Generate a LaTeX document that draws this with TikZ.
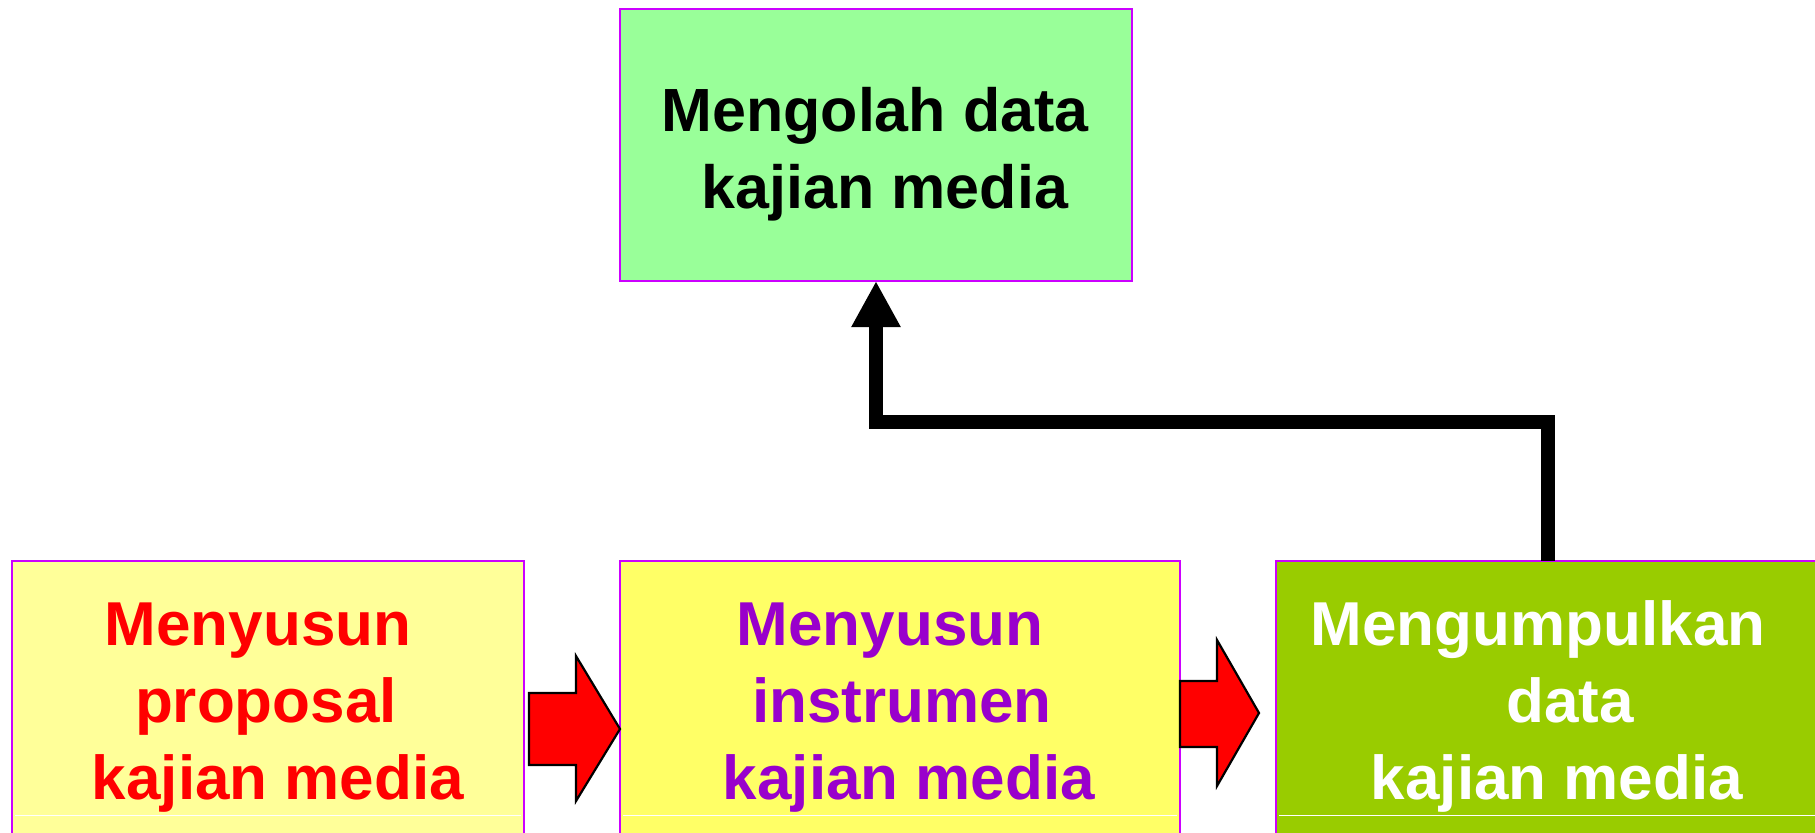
\documentclass[tikz,border=0pt]{standalone}
\usepackage{fontspec}
\setmainfont{Liberation Sans}
\usetikzlibrary{arrows.meta}
\definecolor{boxborder}{HTML}{CC00FF}
\definecolor{fillA}{HTML}{FFFF99}
\definecolor{fillB}{HTML}{FFFF66}
\definecolor{fillC}{HTML}{99CC00}
\definecolor{fillTop}{HTML}{99FF99}
\definecolor{txtB}{HTML}{9900CC}
\tikzset{
  box/.style={draw=boxborder, line width=1.2pt, rectangle, inner sep=0pt, outer sep=0pt},
  bottomtxt/.style={anchor=base, inner sep=0pt, font=\fontsize{31}{38}\selectfont\bfseries},
  toptxt/.style={anchor=base, inner sep=0pt, font=\fontsize{30.5}{38}\selectfont\bfseries},
  conn/.style={line width=7pt, line join=miter, -{Triangle[width=23pt,length=23pt]}},
  blockarrow/.style={fill=red, draw=black, line width=1.1pt, line join=miter},
  sepline/.style={draw=white, line width=0.5pt}
}
\begin{document}
\begin{tikzpicture}[x=0.5pt, y=-0.5pt]
\useasboundingbox (0,0) rectangle (1815,832);
\clip (0,0) rectangle (1815,832);
% boxes
\node[box, fill=fillTop, minimum width=256pt, minimum height=136pt] (top) at (876,145) {};
\node[box, fill=fillA, minimum width=256pt, minimum height=144.5pt] (b1) at (268,705.5) {};
\node[box, fill=fillB, minimum width=280pt, minimum height=144.5pt] (b2) at (900,705.5) {};
\node[box, fill=fillC, minimum width=272pt, minimum height=144.5pt] (b3) at (1548,705.5) {};
% thin white lines near the bottom
\draw[sepline] (15,815) -- (521,815);
\draw[sepline] (623,815) -- (1177,815);
\draw[sepline] (1279,815) -- (1815,815);
% texts
\node[toptxt] (t0a) at (875,131) {Mengolah data};
\node[toptxt] (t0b) at (885,208) {kajian media};
\node[bottomtxt, text=red] (t1a) at (258,645) {Menyusun};
\node[bottomtxt, text=red] (t1b) at (266,722) {proposal};
\node[bottomtxt, text=red] (t1c) at (278,799) {kajian media};
\node[bottomtxt, text=txtB] (t2a) at (890,645) {Menyusun};
\node[bottomtxt, text=txtB] (t2b) at (902,722) {instrumen};
\node[bottomtxt, text=txtB] (t2c) at (909,799) {kajian media};
\node[bottomtxt, text=white] (t3a) at (1538,645) {Mengumpulkan};
\node[bottomtxt, text=white] (t3b) at (1570,722) {data};
\node[bottomtxt, text=white] (t3c) at (1557,799) {kajian media};
% block arrows
\draw[blockarrow] (529,693) -- (576,693) -- (576,656) -- (b2.west |- 0,729) -- (576,801) -- (576,765) -- (529,765) -- cycle;
\draw[blockarrow] (1180,681) -- (1217,681) -- (1217,640) -- (1259,713) -- (1217,786) -- (1217,747) -- (1180,747) -- cycle;
% connector
\draw[conn] (b3.north) -- ++(0,-139) -| (top.south);
\end{tikzpicture}
\end{document}
